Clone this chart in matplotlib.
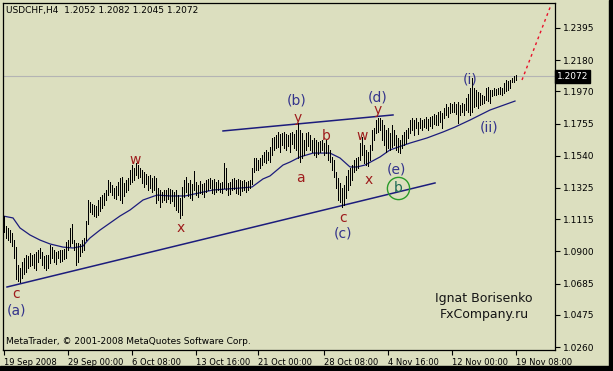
import matplotlib.pyplot as plt
from matplotlib import transforms

# USDCHF H4 bars, highs and lows
bar_high = [
    1.1137, 1.1070, 1.1057, 1.1043, 1.1023, 1.0976, 1.0929, 1.0809, 1.0789, 1.0829,
    1.0856, 1.0876, 1.0869, 1.0890, 1.0876, 1.0883, 1.0896, 1.0910, 1.0923, 1.0896,
    1.0869, 1.0876, 1.0876, 1.0943, 1.0929, 1.0910, 1.0896, 1.0903, 1.0910, 1.0910,
    1.0916, 1.0963, 1.0976, 1.1057, 1.1083, 1.0976, 1.0956, 1.0956, 1.0950, 1.0976,
    1.0990, 1.1103, 1.1244, 1.1231, 1.1217, 1.1211, 1.1204, 1.1244, 1.1264, 1.1277,
    1.1291, 1.1311, 1.1378, 1.1364, 1.1344, 1.1324, 1.1338, 1.1364, 1.1391, 1.1398,
    1.1358, 1.1378, 1.1391, 1.1445, 1.1478, 1.1458, 1.1492, 1.1478, 1.1458, 1.1445,
    1.1431, 1.1418, 1.1405, 1.1411, 1.1391, 1.1405, 1.1391, 1.1324, 1.1311, 1.1298,
    1.1311, 1.1311, 1.1324, 1.1318, 1.1311, 1.1298, 1.1311, 1.1277, 1.1257, 1.1331,
    1.1378, 1.1398, 1.1358, 1.1378, 1.1351, 1.1438, 1.1364, 1.1344, 1.1371, 1.1351,
    1.1358, 1.1378, 1.1385, 1.1391, 1.1378, 1.1385, 1.1364, 1.1378, 1.1358, 1.1364,
    1.1492, 1.1458, 1.1358, 1.1364, 1.1385, 1.1391, 1.1378, 1.1385, 1.1378, 1.1371,
    1.1378, 1.1364, 1.1371, 1.1378, 1.1458, 1.1525, 1.1525, 1.1512, 1.1525, 1.1545,
    1.1565, 1.1579, 1.1565, 1.1599, 1.1659, 1.1665, 1.1679, 1.1699, 1.1686, 1.1692,
    1.1699, 1.1686, 1.1679, 1.1692, 1.1699, 1.1686, 1.1712, 1.1759, 1.1712, 1.1692,
    1.1645, 1.1692, 1.1699, 1.1679, 1.1645, 1.1659, 1.1645, 1.1632, 1.1639, 1.1645,
    1.1625, 1.1645, 1.1612, 1.1579, 1.1532, 1.1512, 1.1431, 1.1391, 1.1358, 1.1324,
    1.1344, 1.1405, 1.1445, 1.1458, 1.1478, 1.1512, 1.1525, 1.1532, 1.1625, 1.1665,
    1.1612, 1.1579, 1.1565, 1.1612, 1.1712, 1.1726, 1.1779, 1.1793, 1.1793, 1.1779,
    1.1746, 1.1712, 1.1726, 1.1692, 1.1746, 1.1712, 1.1679, 1.1659, 1.1645, 1.1679,
    1.1699, 1.1712, 1.1726, 1.1779, 1.1793, 1.1779, 1.1793, 1.1766, 1.1793, 1.1779,
    1.1786, 1.1799, 1.1786, 1.1799, 1.1806, 1.1819, 1.1813, 1.1833, 1.1839, 1.1826,
    1.1860, 1.1886, 1.1866, 1.1893, 1.1886, 1.1900, 1.1886, 1.1900, 1.1880, 1.1893,
    1.1886, 1.1926, 1.1953, 1.1993, 1.2060, 1.1993, 1.1980, 1.1967, 1.1960, 1.1946,
    1.1940, 1.1993, 1.2000, 1.1980, 1.1980, 1.1993, 1.1987, 1.1993, 1.2000, 1.1993,
    1.2027, 1.2047, 1.2040, 1.2047, 1.2060, 1.2073, 1.2082]

bar_low = [
    1.1030, 1.0990, 1.0976, 1.0963, 1.0936, 1.0856, 1.0716, 1.0702, 1.0696, 1.0722,
    1.0749, 1.0762, 1.0789, 1.0803, 1.0809, 1.0789, 1.0776, 1.0829, 1.0856, 1.0809,
    1.0789, 1.0776, 1.0789, 1.0823, 1.0856, 1.0829, 1.0816, 1.0856, 1.0829, 1.0836,
    1.0849, 1.0856, 1.0910, 1.0936, 1.0956, 1.0910, 1.0809, 1.0829, 1.0869, 1.0896,
    1.0910, 1.0976, 1.1083, 1.1164, 1.1150, 1.1137, 1.1130, 1.1144, 1.1170, 1.1190,
    1.1211, 1.1244, 1.1277, 1.1298, 1.1277, 1.1257, 1.1251, 1.1277, 1.1244, 1.1224,
    1.1271, 1.1298, 1.1311, 1.1351, 1.1364, 1.1378, 1.1411, 1.1391, 1.1398, 1.1358,
    1.1331, 1.1351, 1.1311, 1.1324, 1.1298, 1.1311, 1.1224, 1.1244, 1.1197, 1.1231,
    1.1244, 1.1231, 1.1251, 1.1224, 1.1237, 1.1204, 1.1177, 1.1164, 1.1124, 1.1144,
    1.1264, 1.1298, 1.1271, 1.1257, 1.1244, 1.1311, 1.1277, 1.1264, 1.1291, 1.1284,
    1.1264, 1.1298, 1.1311, 1.1324, 1.1291, 1.1284, 1.1298, 1.1311, 1.1298, 1.1291,
    1.1324, 1.1311, 1.1277, 1.1284, 1.1311, 1.1318, 1.1291, 1.1284, 1.1277, 1.1304,
    1.1311, 1.1298, 1.1311, 1.1324, 1.1351, 1.1431, 1.1445, 1.1445, 1.1458, 1.1478,
    1.1498, 1.1492, 1.1512, 1.1498, 1.1545, 1.1579, 1.1592, 1.1599, 1.1565, 1.1612,
    1.1592, 1.1579, 1.1605, 1.1565, 1.1619, 1.1592, 1.1579, 1.1525, 1.1498, 1.1525,
    1.1545, 1.1579, 1.1605, 1.1579, 1.1565, 1.1545, 1.1532, 1.1552, 1.1565, 1.1579,
    1.1545, 1.1558, 1.1512, 1.1498, 1.1445, 1.1398, 1.1324, 1.1244, 1.1231, 1.1197,
    1.1211, 1.1257, 1.1311, 1.1344, 1.1378, 1.1431, 1.1445, 1.1458, 1.1512, 1.1545,
    1.1492, 1.1478, 1.1472, 1.1512, 1.1579, 1.1645, 1.1692, 1.1699, 1.1712, 1.1645,
    1.1612, 1.1565, 1.1592, 1.1579, 1.1599, 1.1612, 1.1579, 1.1565, 1.1558, 1.1592,
    1.1612, 1.1625, 1.1659, 1.1692, 1.1712, 1.1679, 1.1726, 1.1686, 1.1726, 1.1712,
    1.1732, 1.1726, 1.1712, 1.1739, 1.1726, 1.1752, 1.1746, 1.1746, 1.1766, 1.1726,
    1.1793, 1.1813, 1.1799, 1.1826, 1.1833, 1.1833, 1.1819, 1.1759, 1.1813, 1.1833,
    1.1813, 1.1846, 1.1833, 1.1813, 1.1833, 1.1866, 1.1873, 1.1860, 1.1880, 1.1886,
    1.1893, 1.1913, 1.1906, 1.1893, 1.1940, 1.1946, 1.1946, 1.1953, 1.1953, 1.1946,
    1.1960, 1.1973, 1.1980, 1.1993, 1.2033, 1.2033, 1.2045]

# moving average, sampled along the curve (bar index, price)
ma_bar = [-0.5, 4.5, 8, 13, 18, 23, 29.5, 34.5, 39.5, 42, 43, 48, 53, 58, 63, 69.5,
          76.5, 83, 90.5, 104.5, 118, 124, 129.5, 133, 139.5, 143, 148, 154.5, 163,
          168, 173, 176.5, 180.5, 188, 193, 203, 211.5, 219.5, 225.5, 233, 243, 255.5]
ma_value = [1.1137, 1.1124, 1.1057, 1.1010, 1.0976, 1.0950, 1.0929, 1.0923, 1.0936,
            1.0976, 1.0990, 1.1043, 1.1090, 1.1137, 1.1177, 1.1244, 1.1277, 1.1271,
            1.1271, 1.1311, 1.1324, 1.1331, 1.1385, 1.1405, 1.1478, 1.1498, 1.1532,
            1.1558, 1.1558, 1.1525, 1.1465, 1.1465, 1.1478, 1.1532, 1.1579, 1.1625,
            1.1659, 1.1699, 1.1732, 1.1779, 1.1846, 1.1906]

# trend lines and projection
lower_line_bar = [1.5, 215.5]
lower_line_price = [1.0662, 1.1358]
upper_line_bar = [109.5, 194.5]
upper_line_price = [1.1706, 1.1813]
target_bar = [259, 273.5]
target_price = [1.2047, 1.2549]

last_price = 1.2072
price_ticks = [1.2395, 1.2180, 1.1970, 1.1755, 1.1540, 1.1325, 1.1115,
               1.0900, 1.0685, 1.0475, 1.0260]
date_ticks = [0, 32, 64, 96, 127, 160, 192, 224, 256]
date_labels = ['19 Sep 2008', '29 Sep 00:00', '6 Oct 08:00', '13 Oct 16:00',
               '21 Oct 00:00', '28 Oct 08:00', '4 Nov 16:00', '12 Nov 00:00',
               '19 Nov 08:00']

# wave labels: (text, bar, price, kind)
wave_labels = [
    ('c', 6, 1.0615, 'minor'), ('(a)', 6, 1.0508, 'major'),
    ('w', 65.5, 1.1512, 'minor'), ('x', 88.5, 1.1057, 'minor'),
    ('(b)', 146.5, 1.1913, 'major'), ('y', 147, 1.1793, 'minor'),
    ('a', 148, 1.1391, 'minor'), ('b', 161, 1.1672, 'minor'),
    ('c', 169.5, 1.1124, 'minor'), ('(c)', 169.5, 1.1023, 'major'),
    ('w', 179, 1.1672, 'minor'), ('x', 182.5, 1.1378, 'minor'),
    ('(d)', 187, 1.1933, 'major'), ('y', 187, 1.1846, 'minor'),
    ('(e)', 196, 1.1451, 'major'),
    ('(i)', 233, 1.2053, 'major'), ('(ii)', 242.5, 1.1726, 'major'),
]
circle_bar = 197
circle_price = 1.1324

# signature block (bar, price)
author_bar = 240
author_lines = [('Ignat Borisenko', 1.0588), ('FxCompany.ru', 1.0475)]

bg = '#dcdfbf'
navy = '#1c1c7c'
minor_col = '#9e1c1c'
major_col = '#34348c'

fig = plt.figure(figsize=(6.13, 3.71), dpi=100, facecolor=bg)
ax = fig.add_axes([3 / 613, 21 / 371, 552 / 613, 347 / 371], facecolor=bg)

ax.axhline(last_price, color='#b4b4b4', lw=0.8, zorder=1)
ax.vlines(range(len(bar_high)), bar_low, bar_high, colors='black',
          linewidth=0.5, antialiased=False, zorder=3)
ax.plot(ma_bar, ma_value, color=navy, lw=0.9, zorder=2)
ax.plot(lower_line_bar, lower_line_price, color=navy, lw=1.1, zorder=2)
ax.plot(upper_line_bar, upper_line_price, color=navy, lw=1.1, zorder=2)
ax.plot(target_bar, target_price, color='#e8102a', lw=1.0,
        linestyle=(0, (2, 2.5)), zorder=2)

for txt, b, p, kind in wave_labels:
    col = major_col if kind == 'major' else minor_col
    ax.text(b, p, txt, color=col, fontsize=10, ha='center', va='center', zorder=4)

ax.plot([circle_bar], [circle_price], marker='o', markersize=16,
        markerfacecolor='none', markeredgecolor='#2a9a2a', markeredgewidth=1.0, zorder=4)
ax.text(circle_bar, circle_price, 'b', color='#1d6a55', fontsize=10,
        ha='center', va='center', zorder=5)

for txt, p in author_lines:
    ax.text(author_bar, p, txt, fontsize=9, ha='center', va='center',
            color='#151515', zorder=4)

ax.set_xlim(-0.5, 275.5)
ax.set_ylim(1.02405, 1.2562)

ax.yaxis.tick_right()
ax.set_yticks(price_ticks)
ax.set_yticklabels(['%.4f' % v for v in price_ticks])
ax.set_xticks(date_ticks)
ax.set_xticklabels(date_labels)
for lab in ax.get_xticklabels():
    lab.set_horizontalalignment('left')
    lab.set_fontsize(6)
ax.tick_params(axis='both', direction='out', length=3.5, width=0.8,
               labelsize=6.5, colors='black', pad=2)
ax.tick_params(axis='x', labelsize=6)
for s in ax.spines.values():
    s.set_color('black')
    s.set_linewidth(0.9)

# current price box on the price scale
tr = transforms.blended_transform_factory(ax.transAxes, ax.transData)
ax.text(1.004, last_price, '1.2072', transform=tr, fontsize=6.5, color='white',
        ha='left', va='center',
        bbox=dict(boxstyle='square,pad=0.2', fc='black', ec='black'))

fig.text(6 / 613, 1 - 10 / 371, 'USDCHF,H4  1.2052 1.2082 1.2045 1.2072',
         fontsize=6.5, va='center', ha='left')
fig.text(6 / 613, 1 - 342 / 371,
         'MetaTrader, \u00a9 2001-2008 MetaQuotes Software Corp.',
         fontsize=6.5, va='center', ha='left')

# window edges
fig.patches.append(plt.Rectangle((0, 0), 1, 5 / 371, transform=fig.transFigure,
                                 color='black', zorder=0))
fig.patches.append(plt.Rectangle((609 / 613, 0), 4 / 613, 1, transform=fig.transFigure,
                                 color='black', zorder=0))

fig.savefig('out.png', dpi=100, facecolor=bg)
